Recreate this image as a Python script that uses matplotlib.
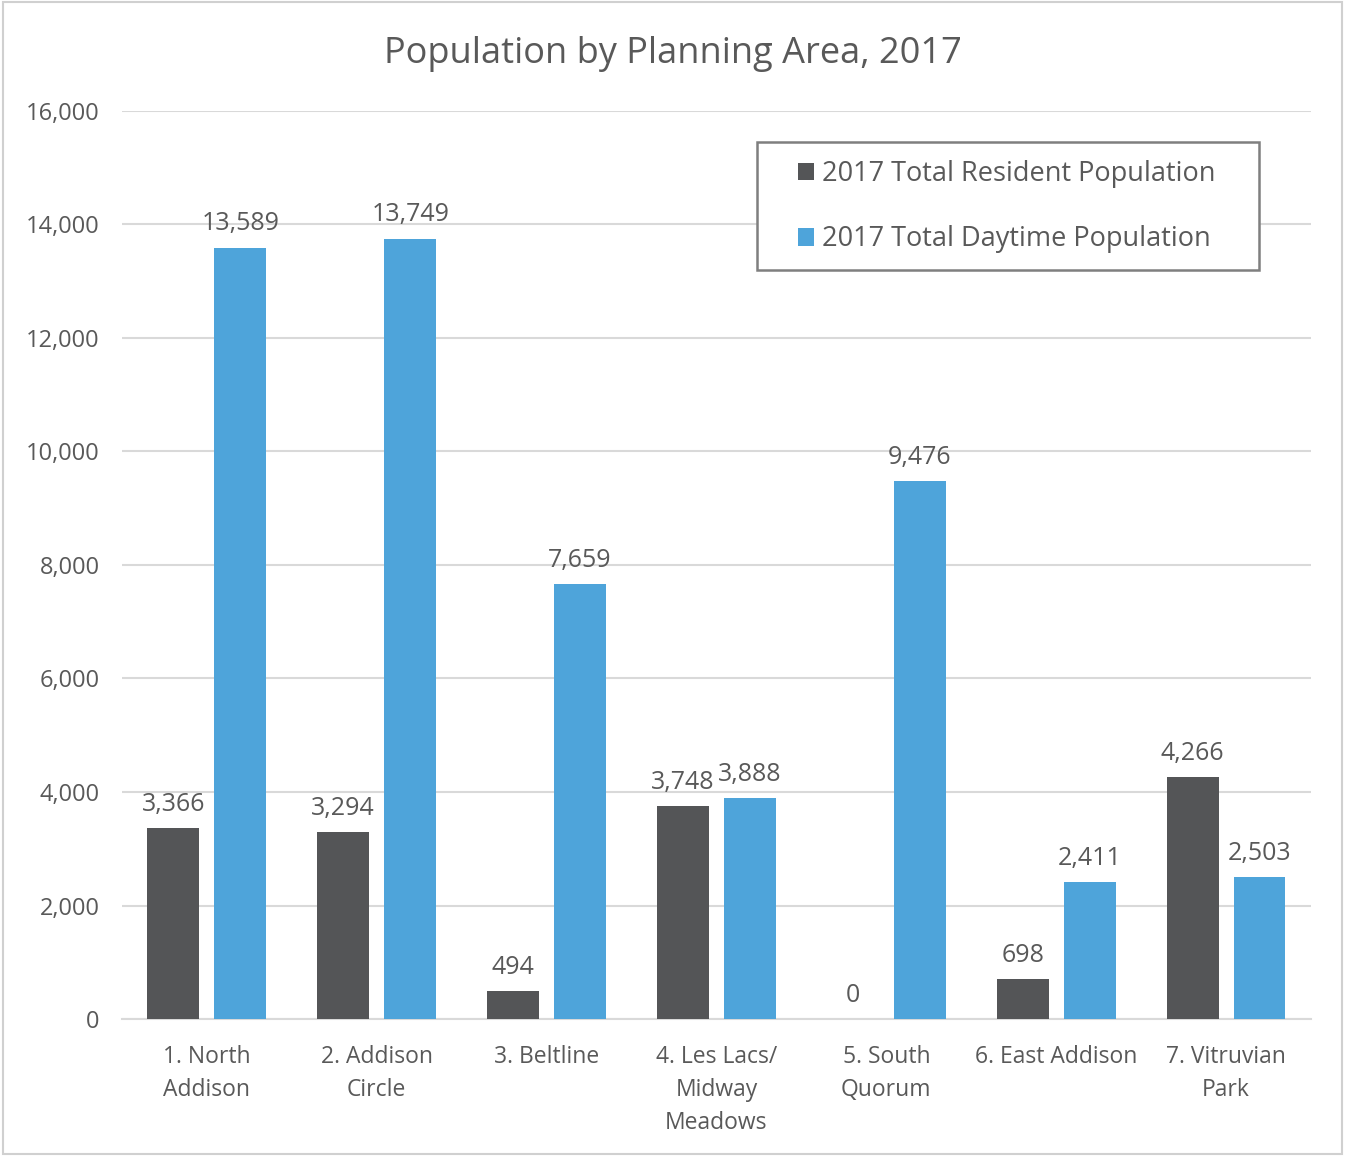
import numpy as np
import matplotlib
matplotlib.use("Agg")
import matplotlib.pyplot as plt
from matplotlib.patches import Rectangle

plt.rcParams['font.family'] = ['Open Sans', 'DejaVu Sans']

areas = ["1. North\nAddison", "2. Addison\nCircle", "3. Beltline", "4. Les Lacs/\nMidway\nMeadows",
         "5. South\nQuorum", "6. East Addison", "7. Vitruvian\nPark"]
resident = [3366, 3294, 494, 3748, 0, 698, 4266]
daytime = [13589, 13749, 7659, 3888, 9476, 2411, 2503]
series_names = ["2017 Total Resident Population", "2017 Total Daytime Population"]
colors = ["#545557", "#4EA4DA"]
text_color = "#595959"

fig = plt.figure(figsize=(13.45, 11.56), dpi=100)
ax = fig.add_axes([0.0907, 0.1185, 0.884, 0.7855])

x = np.arange(len(areas))
w = 0.306
off = 0.197
b1 = ax.bar(x - off, resident, w, color=colors[0], label=series_names[0], zorder=3)
b2 = ax.bar(x + off, daytime, w, color=colors[1], label=series_names[1], zorder=3)

for bars in (b1, b2):
    for rect in bars:
        h = rect.get_height()
        ax.text(rect.get_x() + rect.get_width() / 2, h + 200, f"{h:,.0f}",
                ha="center", va="bottom", fontsize=18, color=text_color)

ax.set_xlim(-0.5, len(areas) - 0.5)
ax.set_ylim(0, 16000)
ax.set_yticks(np.arange(0, 16001, 2000))
ax.set_yticklabels([f"{v:,}" for v in range(0, 16001, 2000)])
ax.set_xticks(x)
ax.set_xticklabels(areas, linespacing=1.5)
ax.tick_params(axis="both", length=0, labelsize=17, colors=text_color)
ax.tick_params(axis="x", pad=19, labelsize=16.5)
ax.tick_params(axis="y", pad=16)
ax.grid(axis="y", color="#D9D9D9", linewidth=1.5, zorder=0)
for s in ["top", "right", "left"]:
    ax.spines[s].set_visible(False)
ax.spines["bottom"].set_color("#D9D9D9")
ax.spines["bottom"].set_linewidth(1.5)

fig.text(0.5, 0.953, "Population by Planning Area, 2017", fontsize=26, color=text_color,
         ha="center", va="center")

# legend box drawn separately so the wide side padding matches
ax.add_patch(Rectangle((0.534, 0.825), 0.422, 0.141, transform=ax.transAxes, fill=True,
                       facecolor="white", edgecolor="#7F7F7F", linewidth=1.8, zorder=4))
leg = ax.legend(loc="center left", bbox_to_anchor=(0.5685, 0.8945), fontsize=19.5, frameon=False,
                handlelength=0.6, handleheight=0.6, handletextpad=0.3, labelspacing=1.38,
                borderpad=0, borderaxespad=0)
leg.set_zorder(5)
for t in leg.get_texts():
    t.set_color(text_color)

fig.patches.append(Rectangle((0.002, 0.002), 0.996, 0.996, transform=fig.transFigure,
                             fill=False, edgecolor="#D0D0D0", linewidth=1.5))

fig.savefig("out.png", dpi=100)
